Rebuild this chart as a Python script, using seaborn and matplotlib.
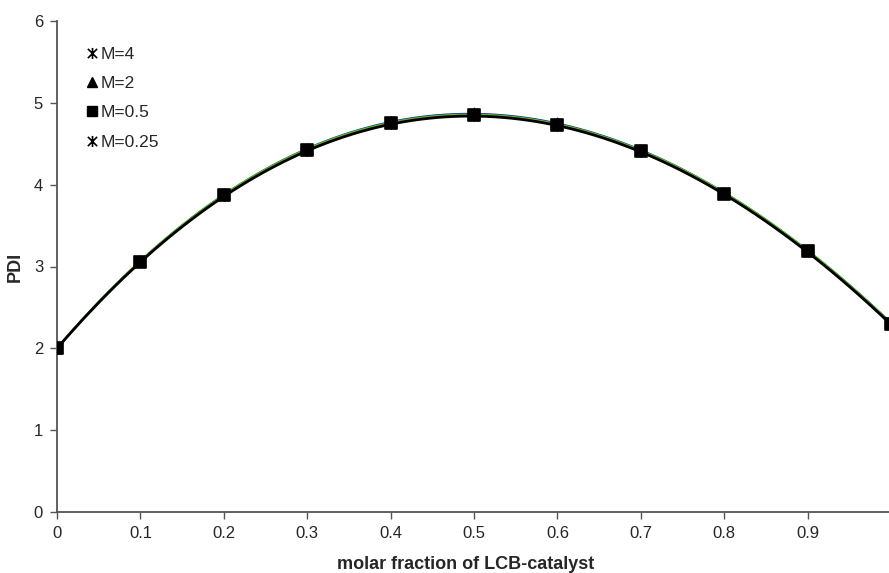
import numpy as np
import pandas as pd
import matplotlib
matplotlib.use("Agg")
import matplotlib.pyplot as plt
from matplotlib.path import Path
from matplotlib.lines import Line2D
import seaborn as sns

# ---- data ----
x_frac = [0.0, 0.1, 0.2, 0.3, 0.4, 0.5, 0.6, 0.7, 0.8, 0.9, 1.0]
pdi_m4 = [2.00, 3.07, 3.88, 4.43, 4.76, 4.86, 4.74, 4.42, 3.90, 3.20, 2.31]
pdi_m2 = [2.00, 3.07, 3.88, 4.43, 4.77, 4.87, 4.75, 4.42, 3.90, 3.20, 2.31]
pdi_m05 = [2.00, 3.06, 3.87, 4.42, 4.75, 4.85, 4.73, 4.41, 3.89, 3.19, 2.30]
pdi_m025 = [2.00, 3.05, 3.86, 4.41, 4.74, 4.84, 4.72, 4.40, 3.88, 3.18, 2.29]
series_labels = ["M=4", "M=2", "M=0.5", "M=0.25"]
x_ticks = [0, 0.1, 0.2, 0.3, 0.4, 0.5, 0.6, 0.7, 0.8, 0.9]
x_tick_labels = ["0", "0.1", "0.2", "0.3", "0.4", "0.5", "0.6", "0.7", "0.8", "0.9"]
y_ticks = [0, 1, 2, 3, 4, 5, 6]

sns.set_theme(style="white")
plt.rcParams["font.family"] = ["Liberation Sans", "DejaVu Sans"]

# star marker: x with vertical bar
star_path = Path(
    [(-1, -1), (1, 1), (-1, 1), (1, -1), (0, -1.2), (0, 1.2)],
    [Path.MOVETO, Path.LINETO, Path.MOVETO, Path.LINETO, Path.MOVETO, Path.LINETO],
)

fig = plt.figure(figsize=(8.89, 5.73), dpi=100)
ax = fig.add_axes([57 / 889, 61 / 573, 834 / 889, 491 / 573])

series = [
    (pdi_m2, series_labels[1], "#1a1aa0", "^", 55),
    (pdi_m4, series_labels[0], "#22dd22", star_path, 60),
    (pdi_m05, series_labels[2], "#d07a20", "s", 64),
    (pdi_m025, series_labels[3], "#000000", star_path, 60),
]
# smooth lines
for vals, lab, col, mk, s in series:
    df = pd.DataFrame({"x": x_frac, "PDI": vals})
    lw = 2.0 if col == "#000000" else 1.4
    sns.regplot(data=df, x="x", y="PDI", ax=ax, order=4, ci=None, scatter=False,
                truncate=True, line_kws={"color": col, "linewidth": lw})
# markers
for vals, lab, col, mk, s in series:
    df = pd.DataFrame({"x": x_frac, "PDI": vals})
    sns.scatterplot(data=df, x="x", y="PDI", ax=ax, marker=mk, s=s,
                    color="black", edgecolor="black", linewidth=1.2, zorder=5)

ax.set_xlim(0, 1.0)
ax.set_ylim(0, 6)
ax.set_xticks(x_ticks)
ax.set_xticklabels(x_tick_labels)
ax.set_yticks(y_ticks)
ax.tick_params(axis="both", labelsize=12, length=5, width=1.0, direction="out",
               color="#555555", bottom=True, left=True, pad=5)
for side in ["top", "right"]:
    ax.spines[side].set_visible(False)
for side in ["left", "bottom"]:
    ax.spines[side].set_color("#555555")
    ax.spines[side].set_linewidth(1.3)

ax.set_xlabel("molar fraction of LCB-catalyst", fontsize=13, fontweight="bold")
ax.set_ylabel("PDI", fontsize=13, fontweight="bold")
ax.xaxis.set_label_coords(0.49, -0.09)
ax.yaxis.set_label_coords(-0.040, 0.5)

handles = [
    Line2D([], [], linestyle="none", marker=star_path, markersize=8, color="black", markeredgewidth=1.2),
    Line2D([], [], linestyle="none", marker="^", markersize=7, color="black"),
    Line2D([], [], linestyle="none", marker="s", markersize=7, color="black"),
    Line2D([], [], linestyle="none", marker=star_path, markersize=8, color="black", markeredgewidth=1.2),
]
ax.legend(handles, series_labels, loc="upper left", bbox_to_anchor=(0.017, 0.98),
          frameon=False, fontsize=12.5, handlelength=0.6, handletextpad=0.2,
          labelspacing=0.82)

fig.savefig("out.png", dpi=100)
